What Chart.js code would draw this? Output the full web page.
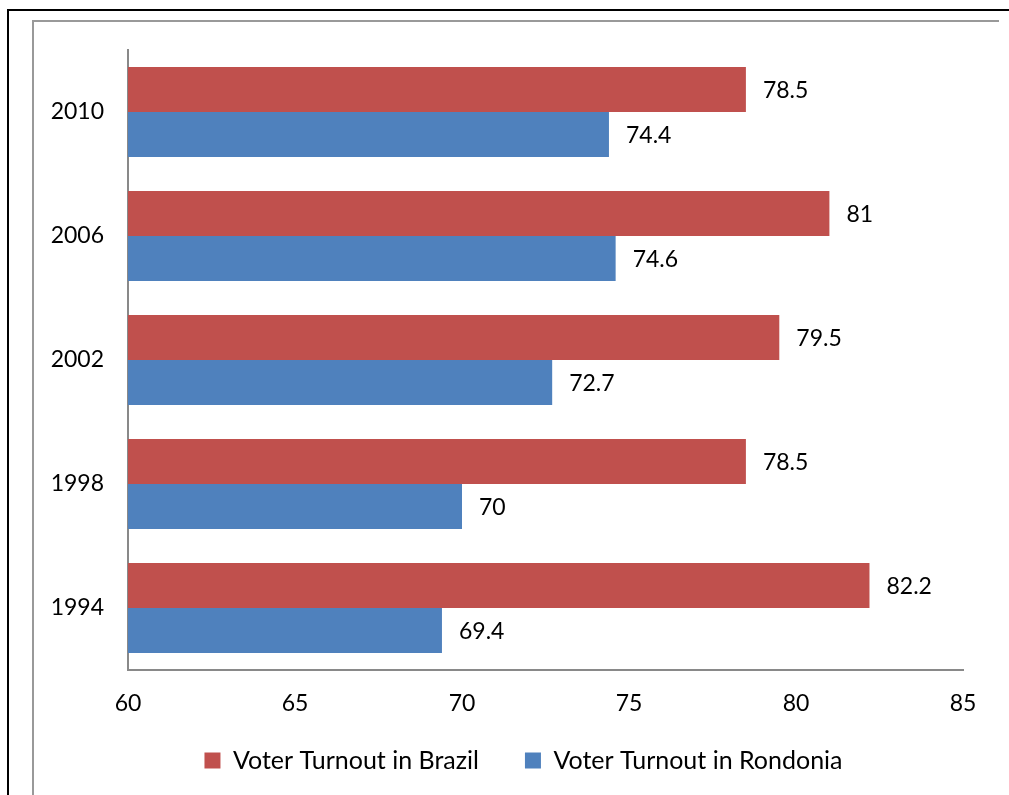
<!DOCTYPE html>
<html>
<head>
<meta charset="utf-8">
<script src="https://cdn.jsdelivr.net/npm/chart.js@4/dist/chart.umd.min.js"></script>
<style>
body { margin: 0; background: #fff; }
#wrap { position: relative; width: 1009px; height: 795px; overflow: hidden; }
#outerTop { position: absolute; left: 7px; top: 9px; width: 1002px; height: 2px; background: #000; }
#outerLeft { position: absolute; left: 7px; top: 9px; width: 2px; height: 786px; background: #000; }
#innerTop { position: absolute; left: 32px; top: 20px; width: 967px; height: 2px; background: #999; }
#innerLeft { position: absolute; left: 32px; top: 20px; width: 2px; height: 775px; background: #999; }
canvas { position: absolute; left: 0; top: 0; }
</style>
</head>
<body>
<div id="wrap">
  <div id="outerTop"></div>
  <div id="outerLeft"></div>
  <div id="innerTop"></div>
  <div id="innerLeft"></div>
  <canvas id="myChart" width="1009" height="795"></canvas>
</div>
<script>
var years = ["2010", "2006", "2002", "1998", "1994"];
var brazil = [78.5, 81, 79.5, 78.5, 82.2];
var rondonia = [74.4, 74.6, 72.7, 70, 69.4];
var xTicks = [60, 65, 70, 75, 80, 85];

var fontName = "Lato, 'Open Sans', sans-serif";

// value labels at the end of each bar
var barLabels = {
    id: "barLabels",
    afterDatasetsDraw(chart){
        var ctx = chart.ctx;
        ctx.save();
        ctx.font = "23px " + fontName;
        ctx.fillStyle = "#000";
        ctx.textBaseline = "middle";
        ctx.textAlign = "left";
        chart.data.datasets.forEach((ds, i)=>{
            var meta = chart.getDatasetMeta(i);
            meta.data.forEach((el, j)=>{
                ctx.fillText(String(ds.data[j]), el.x + 17, el.y + 1);
            })
        })
        ctx.restore();
    }
};

// nudge the legend to where it sits in the original
var moveLegend = {
    id: "moveLegend",
    afterLayout(chart){
        var lg = chart.legend;
        lg.left += 42; lg.right += 42;
        lg.top -= 20; lg.bottom -= 20;
    }
};

new Chart("myChart", {
    type: "bar",
    data: {
        labels: years,
        datasets: [{
            label: "Voter Turnout in Brazil",
            data: brazil,
            backgroundColor: "#C0504D",
            categoryPercentage: 0.726,
            barPercentage: 1
        },{
            label: "Voter Turnout in Rondonia",
            data: rondonia,
            backgroundColor: "#4F81BD",
            categoryPercentage: 0.726,
            barPercentage: 1
        }]
    },
    plugins: [barLabels, moveLegend],
    options: {
        indexAxis: "y",
        responsive: false,
        animation: false,
        layout: { padding: { top: 50, right: 46, left: 0, bottom: -8 } },
        scales: {
            x: {
                min: 60, max: 85,
                afterBuildTicks(scale){ scale.ticks = xTicks.map(v=>({value: v})); },
                grid: { display: false, drawTicks: false },
                border: { color: "#898989", width: 2 },
                ticks: { color: "#000", padding: 20, font: { size: 23, family: fontName } },
                afterFit(scale){ scale.height = 52; }
            },
            y: {
                grid: { display: false, drawTicks: false },
                border: { color: "#898989", width: 2 },
                ticks: { color: "#000", padding: 24, font: { size: 23, family: fontName } },
                afterFit(scale){ scale.width = 128; }
            }
        },
        plugins: {
            tooltip: { enabled: false },
            legend: {
                position: "bottom",
                labels: {
                    color: "#000",
                    boxWidth: 16, boxHeight: 16,
                    padding: 46,
                    font: { size: 25, family: fontName }
                }
            }
        }
    }
});
</script>
</body>
</html>
